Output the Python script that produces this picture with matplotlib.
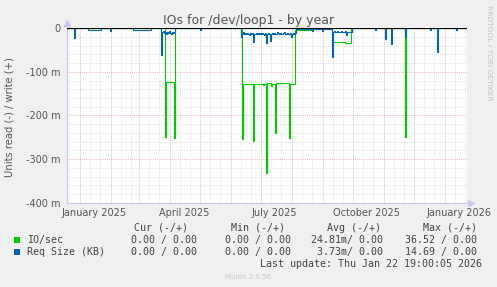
import numpy as np
import pandas as pd
import matplotlib
matplotlib.use("Agg")
import matplotlib.pyplot as plt
from matplotlib.patches import Rectangle

# IO/sec, read side (drawn negative), in milli; each value holds until the next date
io_dates = ["2024-12-18", "2025-03-27", "2025-03-28", "2025-04-05", "2025-04-06",
            "2025-06-12", "2025-06-13", "2025-06-23", "2025-06-24", "2025-07-03",
            "2025-07-04", "2025-07-06", "2025-07-07", "2025-07-11", "2025-07-12",
            "2025-07-15", "2025-07-16", "2025-07-29", "2025-07-30", "2025-08-04",
            "2025-08-21", "2025-09-10", "2025-09-23", "2025-09-29", "2025-11-22",
            "2025-11-23", "2026-01-22"]
io_read = [0, -250, -124, -251, 0,
           -254, -128, -258, -128, -131,
           -128, -331, -126, -132, -128,
           -241, -126, -251, -128, -3,
           0, -31, -33, 0, -250,
           0, 0]

# Req Size (KB), read side, in milli
req_dates = ["2024-12-18", "2024-12-26", "2024-12-27", "2025-01-09", "2025-01-22",
             "2025-01-31", "2025-02-01", "2025-02-23", "2025-03-13", "2025-03-23",
             "2025-04-06", "2025-05-01", "2025-05-02", "2025-06-11", "2025-08-05",
             "2025-08-21", "2025-08-22", "2025-08-31", "2025-09-01", "2025-09-10",
             "2025-09-30", "2025-10-23", "2025-10-24", "2025-11-02", "2025-11-03",
             "2025-11-08", "2025-11-09", "2025-11-22", "2025-11-23", "2025-12-17",
             "2025-12-18", "2025-12-24", "2025-12-25", "2026-01-12", "2026-01-13",
             "2026-01-22"]
req_read = [0, -23, 0, -4, 0,
            -6, 0, -4, 0, -61,
            0, -5, 0, -21, -2,
            -6, -2, -6, -2, -65,
            0, -4, 0, -24, 0,
            -37, 0, -19, 0, -4,
            0, -55, 0, -4, 0,
            0]
# daily runs of Req Size values
req_mar_start = "2025-03-24"
req_mar = [-9, -6, -10, -8, -12, -9, -11, -7, -10, -13, -9, -11, -8]
req_jun_start = "2025-06-12"
req_jun = [-12, -9, -13, -11, -14, -10, -12, -15, -11, -13, -10, -32, -12, -14,
           -11, -13, -10, -12, -11, -13, -10, -12, -15, -11, -34, -13, -10, -14,
           -28, -12, -10, -13, -11, -14, -12, -9, -11, -13, -10, -12, -14, -11,
           -9, -12, -13, -10, -14, -12, -11, -21, -13, -10, -12, -11]
req_sep_start = "2025-09-11"
req_sep = [-8, -7, -9, -8, -7, -8, -9, -8, -7, -8, -9, -8, -7, -15, -9, -8, -9, -8, -9]

write_dates = ["2024-12-18", "2026-01-22"]
write_vals = [0, 0]

y_ticks = [0, -100, -200, -300, -400]
y_labels = ["0", "-100 m", "-200 m", "-300 m", "-400 m"]
x_label_dates = ["2025-01-15", "2025-04-15", "2025-07-15", "2025-10-15", "2026-01-15"]
x_labels = ["January 2025", "April 2025", "July 2025", "October 2025", "January 2026"]


def series(dates, vals, runs=()):
    idx = list(pd.to_datetime(dates))
    v = list(vals)
    for start, run in runs:
        idx += list(pd.date_range(start, periods=len(run), freq="D"))
        v += list(run)
    return pd.Series(v, index=idx).sort_index()


io_s = series(io_dates, io_read)
req_s = series(req_dates, req_read,
               [(req_mar_start, req_mar), (req_jun_start, req_jun), (req_sep_start, req_sep)])
wr_s = series(write_dates, write_vals)

W, H = 497, 287
fig = plt.figure(figsize=(W / 100, H / 100), dpi=100, facecolor="#f0f0f0")
ax = fig.add_axes([66.5 / W, (H - 202.7) / H, 400 / W, 174.4 / H])
ax.set_facecolor("white")

x0 = pd.Timestamp("2024-12-18 19:00")
x1 = pd.Timestamp("2026-01-22 19:00")
ax.set_xlim(x0, x1)
ax.set_ylim(-400, 0)

grid_minor = "#d8d8d8"
grid_major = "#e4a0a0"
for y in range(-380, 0, 20):
    if y % 100:
        ax.axhline(y, color=grid_minor, lw=0.6, ls=(0, (1, 1.5)), zorder=1)
for y in y_ticks[1:]:
    ax.axhline(y, color=grid_major, lw=0.6, ls=(0, (1, 1.5)), zorder=1)
for m in pd.date_range("2024-12-01", "2026-01-31", freq="MS"):
    for d in (10, 20):
        t = m + pd.Timedelta(days=d)
        if x0 < t < x1:
            ax.axvline(t, color=grid_minor, lw=0.6, ls=(0, (1, 1.5)), zorder=1)
    if x0 < m < x1:
        ax.axvline(m, color=grid_major, lw=0.6, ls=(0, (1, 1.5)), zorder=1)

ax.plot(io_s.index, io_s.values, drawstyle="steps-post", color="#00cc00", lw=0.8, zorder=3)
ax.plot(req_s.index, req_s.values, drawstyle="steps-post", color="#0066b3", lw=0.8, zorder=4)
ax.plot(wr_s.index, wr_s.values, color="#00cc00", lw=0.8, zorder=3)
ax.axhline(0, color="black", lw=0.8, zorder=5)

for s in ("top", "right"):
    ax.spines[s].set_visible(False)
for s in ("left", "bottom"):
    ax.spines[s].set_color("#c8c8ec")
    ax.spines[s].set_linewidth(0.8)
ax.plot([0], [1.03], marker="^", color="#c8c8ec", ms=4, transform=ax.transAxes, clip_on=False)
ax.plot([1.01], [0], marker=">", color="#c8c8ec", ms=4, transform=ax.transAxes, clip_on=False)
ax.plot([0, 0], [1, 1.03], color="#c8c8ec", lw=0.8, transform=ax.transAxes, clip_on=False)
ax.plot([1, 1.01], [0, 0], color="#c8c8ec", lw=0.8, transform=ax.transAxes, clip_on=False)

ax.set_yticks(y_ticks, y_labels)
ax.set_xticks(pd.to_datetime(x_label_dates), x_labels)
ax.tick_params(axis="both", length=0, labelsize=7, labelcolor="#555555")
ax.tick_params(axis="y", pad=4.5)
ax.tick_params(axis="x", pad=3.5)

fig.text(248.5 / W, 1 - 24 / H, "IOs for /dev/loop1 - by year", ha="center", va="baseline",
         fontsize=9, color="#555555")
fig.text(10 / W, 1 - 117 / H, "Units read (-) / write (+)", rotation=90, ha="center",
         va="center", fontsize=7.2, color="#555555")
fig.text(489 / W, 1 - 5 / H, "RRDTOOL / TOBI OETIKER", rotation=270, ha="center", va="top",
         fontsize=5.4, color="#c4c4c4")

mono = dict(family="DejaVu Sans Mono", fontsize=7.2, color="#444444", va="baseline")
rows = [1 - 230.7 / H, 1 - 243.3 / H, 1 - 255 / H]
for x, t in [(134.3, "Cur (-/+)"), (230.7, "Min (-/+)"), (326.7, "Avg (-/+)"), (422.7, "Max (-/+)")]:
    fig.text(x / W, rows[0], t, ha="left", **mono)

legend_names = ["IO/sec", "Req Size (KB)"]
legend_colors = ["#00cc00", "#0066b3"]
cur_vals = ["0.00 / 0.00", "0.00 / 0.00"]
min_vals = ["0.00 / 0.00", "0.00 / 0.00"]
avg_vals = ["24.81m/ 0.00", "3.73m/ 0.00"]
max_vals = ["36.52 / 0.00", "14.69 / 0.00"]
for i in range(2):
    y = rows[i + 1]
    fig.patches.append(Rectangle((14 / W, y), 6 / W, 6 / H, transform=fig.transFigure,
                                 facecolor=legend_colors[i], edgecolor="none"))
    fig.text(26.7 / W, y, legend_names[i], ha="left", **mono)
    fig.text(196.7 / W, y, cur_vals[i], ha="right", **mono)
    fig.text(290.7 / W, y, min_vals[i], ha="right", **mono)
    fig.text(383.3 / W, y, avg_vals[i], ha="right", **mono)
    fig.text(476.7 / W, y, max_vals[i], ha="right", **mono)

fig.text(482.3 / W, 1 - 266.7 / H, "Last update: Thu Jan 22 19:00:05 2026", ha="right", **mono)
fig.text(248 / W, 1 - 278.7 / H, "Munin 2.0.56", ha="center", va="baseline", fontsize=5,
         color="#c8c8c8")

fig.savefig("out.png", dpi=100, facecolor=fig.get_facecolor())
